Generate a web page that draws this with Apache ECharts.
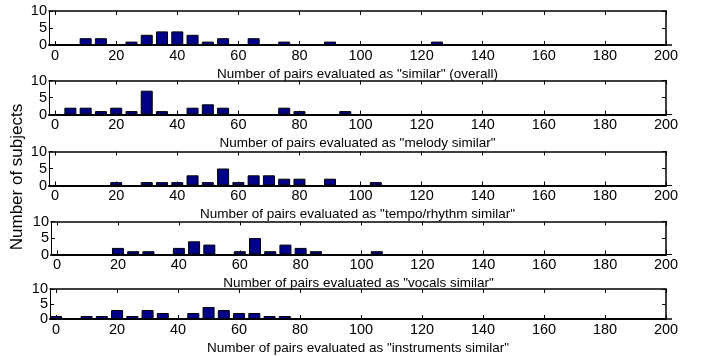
<!DOCTYPE html>
<html>
<head>
<meta charset="utf-8">
<script src="https://cdn.jsdelivr.net/npm/echarts@6/dist/echarts.min.js"></script>
<style>
  html, body { margin: 0; padding: 0; background: #fff; }
  #chart { width: 701px; height: 356px; }
</style>
</head>
<body>
<div id="chart"></div>
<script>
// histogram bin centres (pairs)
var bins = [0, 5, 10, 15, 20, 25, 30, 35, 40, 45, 50, 55, 60, 65, 70, 75, 80, 85, 90, 95,
  100, 105, 110, 115, 120, 125, 130, 135, 140, 145, 150, 155, 160, 165, 170, 175, 180, 185, 190, 195, 200];

// number of subjects per bin
var overall = [0, 0, 2, 2, 0, 1, 3, 4, 4, 3, 1, 2, 0, 2, 0, 1, 0, 0, 1, 0,
  0, 0, 0, 0, 0, 1, 0, 0, 0, 0, 0, 0, 0, 0, 0, 0, 0, 0, 0, 0, 0];
var melody = [0, 2, 2, 1, 2, 1, 7, 1, 0, 2, 3, 2, 0, 0, 0, 2, 1, 0, 0, 1,
  0, 0, 0, 0, 0, 0, 0, 0, 0, 0, 0, 0, 0, 0, 0, 0, 0, 0, 0, 0, 0];
var tempo = [0, 0, 0, 0, 1, 0, 1, 1, 1, 3, 1, 5, 1, 3, 3, 2, 2, 0, 2, 0,
  0, 1, 0, 0, 0, 0, 0, 0, 0, 0, 0, 0, 0, 0, 0, 0, 0, 0, 0, 0, 0];
var vocals = [0, 0, 0, 0, 2, 1, 1, 0, 2, 4, 3, 0, 1, 5, 1, 3, 2, 1, 0, 0,
  0, 1, 0, 0, 0, 0, 0, 0, 0, 0, 0, 0, 0, 0, 0, 0, 0, 0, 0, 0, 0];
var instruments = [1, 0, 1, 1, 3, 1, 3, 2, 0, 2, 4, 3, 2, 2, 1, 1, 0, 0, 0, 0,
  0, 0, 0, 0, 0, 0, 0, 0, 0, 0, 0, 0, 0, 0, 0, 0, 0, 0, 0, 0, 0];

var xTicks = [0, 20, 40, 60, 80, 100, 120, 140, 160, 180, 200];

var xNames = [
  'Number of pairs evaluated as "similar" (overall)',
  'Number of pairs evaluated as "melody similar"',
  'Number of pairs evaluated as "tempo/rhythm similar"',
  'Number of pairs evaluated as "vocals similar"',
  'Number of pairs evaluated as "instruments similar"'
];
var yName = 'Number of subjects';

var counts = [overall, melody, tempo, vocals, instruments];

// plot boxes (pixels)
var boxes = [
  { left: 49, top: 11, height: 34 },
  { left: 49, top: 80.5, height: 34 },
  { left: 49, top: 151.5, height: 34 },
  { left: 51, top: 221.5, height: 33 },
  { left: 50, top: 289, height: 32 }
];

var FONT = 'Liberation Sans, Arial, sans-serif';
var grid = [], xAxis = [], yAxis = [], series = [];

boxes.forEach(function (b, i) {
  grid.push({ left: b.left, right: 35, top: b.top, height: b.height, containLabel: false });

  // bottom axis
  xAxis.push({
    gridIndex: i, type: 'value', min: -2, max: 200, position: 'bottom',
    axisLine: { show: true, onZero: false, lineStyle: { color: '#000', width: 2 } },
    axisTick: { show: true, inside: true, length: 4, customValues: xTicks, lineStyle: { color: '#000' } },
    axisLabel: { show: true, customValues: xTicks, color: '#000', fontSize: 14.5, fontFamily: FONT, margin: 3 },
    splitLine: { show: false },
    name: xNames[i], nameLocation: 'middle', nameGap: 22,
    nameTextStyle: { color: '#000', fontSize: 13.5, fontFamily: FONT }
  });
  // top mirror
  xAxis.push({
    gridIndex: i, type: 'value', min: -2, max: 200, position: 'top',
    axisLine: { show: true, onZero: false, lineStyle: { color: '#000', width: 1.5 } },
    axisTick: { show: true, inside: true, length: 4, customValues: xTicks, lineStyle: { color: '#000' } },
    axisLabel: { show: false },
    splitLine: { show: false }
  });
  yAxis.push({
    gridIndex: i, type: 'value', min: 0, max: 10, interval: 5, position: 'left',
    axisLine: { show: true, onZero: false, lineStyle: { color: '#000', width: 1 } },
    axisTick: { show: true, inside: true, length: 4, lineStyle: { color: '#000' } },
    axisLabel: { show: true, color: '#000', fontSize: 14.5, fontFamily: FONT, margin: 2 },
    splitLine: { show: false }
  });
  yAxis.push({
    gridIndex: i, type: 'value', min: 0, max: 10, interval: 5, position: 'right',
    axisLine: { show: true, onZero: false, lineStyle: { color: '#000', width: 1.5 } },
    axisTick: { show: true, inside: true, length: 4, lineStyle: { color: '#000' } },
    axisLabel: { show: false },
    splitLine: { show: false }
  });

  series.push({
    type: 'bar',
    xAxisIndex: i * 2,
    yAxisIndex: i * 2,
    barWidth: 12,
    itemStyle: { color: '#000088', borderColor: '#000', borderWidth: 1 },
    silent: true,
    data: bins.map(function (x, k) { return [x, counts[i][k]]; })
  });
});

var chart = echarts.init(document.getElementById('chart'));
chart.setOption({
  animation: false,
  backgroundColor: '#fff',
  grid: grid,
  xAxis: xAxis,
  yAxis: yAxis,
  series: series,
  graphic: [{
    type: 'text', x: 17, y: 177, rotation: Math.PI / 2,
    style: { text: yName, fill: '#000', font: '17px ' + FONT, textAlign: 'center', textVerticalAlign: 'middle' }
  }]
});
</script>
</body>
</html>
